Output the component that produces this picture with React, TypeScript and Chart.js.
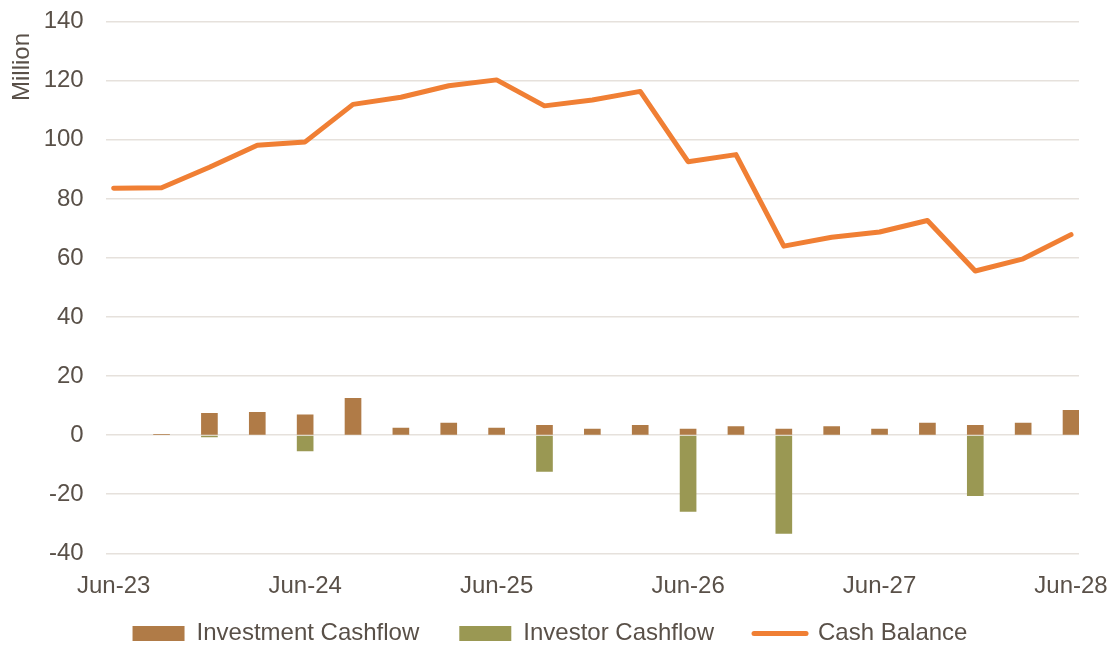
import React, { useEffect, useRef } from 'react';
import { Chart, registerables } from 'chart.js';

Chart.register(...registerables);

const quarters = [
  'Jun-23', 'Sep-23', 'Dec-23', 'Mar-24', 'Jun-24', 'Sep-24', 'Dec-24', 'Mar-25',
  'Jun-25', 'Sep-25', 'Dec-25', 'Mar-26', 'Jun-26', 'Sep-26', 'Dec-26', 'Mar-27',
  'Jun-27', 'Sep-27', 'Dec-27', 'Mar-28', 'Jun-28',
];
const tickPositions = [0, 4, 8, 12, 16, 20];

const investmentCashflow = [
  0, 0.3, 7.4, 7.7, 6.9, 12.5, 2.4, 4.1, 2.4, 3.3, 2.1, 3.3, 2.1, 2.9, 2.1, 2.9, 2.1, 4.1, 3.3, 4.1, 8.4,
];
const investorCashflow = [
  0, 0, -0.6, 0, -5.3, 0, 0, 0, 0, -12.3, 0, 0, -25.8, 0, -33.3, 0, 0, 0, -20.5, 0, 0,
];
const cashBalance = [
  83.6, 83.8, 90.7, 98.2, 99.3, 112.0, 114.4, 118.3, 120.3, 111.5, 113.5, 116.4, 92.6, 95.0,
  64.0, 67.0, 68.8, 72.7, 55.6, 59.7, 67.9,
];

const seriesNames = ['Investment Cashflow', 'Investor Cashflow', 'Cash Balance'];
const yAxisTitle = 'Million';
const yMin = -40;
const yMax = 140;
const yStep = 20;

const COLORS = {
  investment: '#B07B47',
  investor: '#9A9853',
  balance: '#F07F34',
  text: '#595048',
  grid: '#E6E1DC',
};
const FONT_FAMILY = '"Liberation Sans", Arial, Helvetica, sans-serif';

const toBarPoints = (values: number[]) =>
  values.map((y, i) => ({ x: i, y: y === 0 ? null : y }));

export default function App() {
  const ref = useRef<HTMLCanvasElement>(null);

  useEffect(() => {
    if (!ref.current) return;
    const font = { family: FONT_FAMILY, size: 24 };

    const titlePlugin = {
      id: 'yTitle',
      afterDraw(chart: any) {
        const ctx = chart.ctx;
        ctx.save();
        ctx.translate(22, 67);
        ctx.rotate(-Math.PI / 2);
        ctx.font = `24px ${FONT_FAMILY}`;
        ctx.fillStyle = COLORS.text;
        ctx.textAlign = 'center';
        ctx.textBaseline = 'middle';
        ctx.fillText(yAxisTitle, 0, 0);
        ctx.restore();
      },
    };

    const legendPlace = {
      id: 'legendPlace',
      afterLayout(chart: any) {
        const lg = chart.legend;
        if (lg) {
          lg.top = 633.5 - 52;
          lg.bottom = 648;
          lg.height = lg.bottom - lg.top;
        }
      },
    };

    const chart = new Chart(ref.current, {
      type: 'bar',
      data: {
        datasets: [
          {
            type: 'bar',
            label: seriesNames[0],
            data: toBarPoints(investmentCashflow),
            backgroundColor: COLORS.investment,
            barThickness: 16,
            grouped: false,
          } as any,
          {
            type: 'bar',
            label: seriesNames[1],
            data: toBarPoints(investorCashflow),
            backgroundColor: COLORS.investor,
            barThickness: 16,
            grouped: false,
          } as any,
          {
            type: 'line',
            label: seriesNames[2],
            data: cashBalance.map((y, i) => ({ x: i, y })),
            borderColor: COLORS.balance,
            backgroundColor: COLORS.balance,
            borderWidth: 5,
            pointRadius: 0,
            tension: 0,
            borderJoinStyle: 'round',
            borderCapStyle: 'round',
          } as any,
        ],
      },
      options: {
        animation: false,
        responsive: false,
        layout: { padding: { left: 21, right: 35, top: 21.7, bottom: 0 } },
        scales: {
          x: {
            type: 'linear',
            offset: false,
            min: -1 / 6,
            max: 20 + 1 / 6,
            afterBuildTicks: (s: any) => {
              s.ticks = tickPositions.map((v) => ({ value: v }));
            },
            afterFit: (s: any) => {
              s.height = 45;
              s.paddingLeft = 0;
              s.paddingRight = 0;
            },
            ticks: {
              callback: (v: any) => quarters[Math.round(Number(v))],
              font,
              color: COLORS.text,
              padding: 10.5,
              maxRotation: 0,
              autoSkip: false,
            },
            grid: { display: false },
            border: { display: false },
          },
          y: {
            type: 'linear',
            min: yMin,
            max: yMax,
            afterFit: (s: any) => {
              s.width = 84.7;
              s.paddingTop = 0;
              s.paddingBottom = 0;
            },
            ticks: { stepSize: yStep, font, color: COLORS.text, padding: 22 },
            grid: { color: COLORS.grid, lineWidth: 1.6, drawTicks: false },
            border: { display: false },
          },
        },
        plugins: {
          tooltip: { enabled: false },
          legend: {
            position: 'bottom',
            maxHeight: 49.7,
            labels: {
              usePointStyle: true,
              pointStyleWidth: 52,
              boxHeight: 15,
              padding: 40,
              font,
              color: COLORS.text,
              generateLabels: () => [
                {
                  text: seriesNames[0],
                  fillStyle: COLORS.investment,
                  strokeStyle: COLORS.investment,
                  lineWidth: 0,
                  pointStyle: 'rect',
                  hidden: false,
                  datasetIndex: 0,
                  fontColor: COLORS.text,
                },
                {
                  text: seriesNames[1],
                  fillStyle: COLORS.investor,
                  strokeStyle: COLORS.investor,
                  lineWidth: 0,
                  pointStyle: 'rect',
                  hidden: false,
                  datasetIndex: 1,
                  fontColor: COLORS.text,
                },
                {
                  text: seriesNames[2],
                  fillStyle: COLORS.balance,
                  strokeStyle: COLORS.balance,
                  lineWidth: 5,
                  lineCap: 'round',
                  pointStyle: 'line',
                  hidden: false,
                  datasetIndex: 2,
                  fontColor: COLORS.text,
                },
              ],
            },
          },
        },
      } as any,
      plugins: [titlePlugin, legendPlace],
    });

    return () => chart.destroy();
  }, []);

  return (
    <div style={{ position: 'absolute', left: 0, top: 0, width: 1114, height: 648, background: '#fff' }}>
      <canvas ref={ref} width={1114} height={648} />
    </div>
  );
}
